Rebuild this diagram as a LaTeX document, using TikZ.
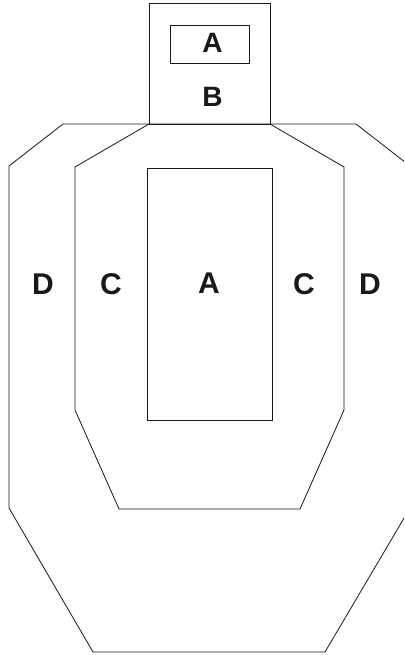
\documentclass[tikz,border=0pt]{standalone}
\usepackage{fontspec}
\setmainfont{Liberation Sans}
\usetikzlibrary{positioning}
\definecolor{TargetInk}{RGB}{25,25,25}
\newcommand{\zonelabel}[4]{%
  \node[zone] (#1) at (#2,#3) {#4};}

\begin{document}
\begin{tikzpicture}[x=1pt,y=-1pt,
  edge/.style={draw=TargetInk,line width=0.8pt,line join=miter},
  zone/.style={TargetInk,font=\fontsize{30}{30}\selectfont\bfseries,inner sep=0pt},
  headzone/.style={zone,font=\fontsize{28}{28}\selectfont\bfseries}]
  \clip (0,0) rectangle (404,655);
  % outer D ring, its right side runs off the page
  \draw[edge] (63,124)--(356,124)--(410,166)--(410,508)--(325,652)
    --(93,652)--(9,508)--(9,166)--cycle;
  % C ring
  \draw[edge] (149,124)--(75,167)--(75,410)--(119,509)--(300,509)
    --(344,410)--(344,167)--(270,124);
  % head and body A zones
  \draw[edge] (149,3) rectangle (270,124);
  \draw[edge] (170,25) rectangle (249,63);
  \draw[edge] (147,168) rectangle (272,420);
  \node[headzone] (headA) at (212.5,43) {A};
  \node[headzone] (headB) at (212.5,97) {B};
  \zonelabel{leftD}{43}{284}{D}
  \zonelabel{leftC}{111}{284}{C}
  \zonelabel{bodyA}{209}{283}{A}
  \zonelabel{rightC}{304}{284}{C}
  \zonelabel{rightD}{370}{284}{D}
\end{tikzpicture}
\end{document}
